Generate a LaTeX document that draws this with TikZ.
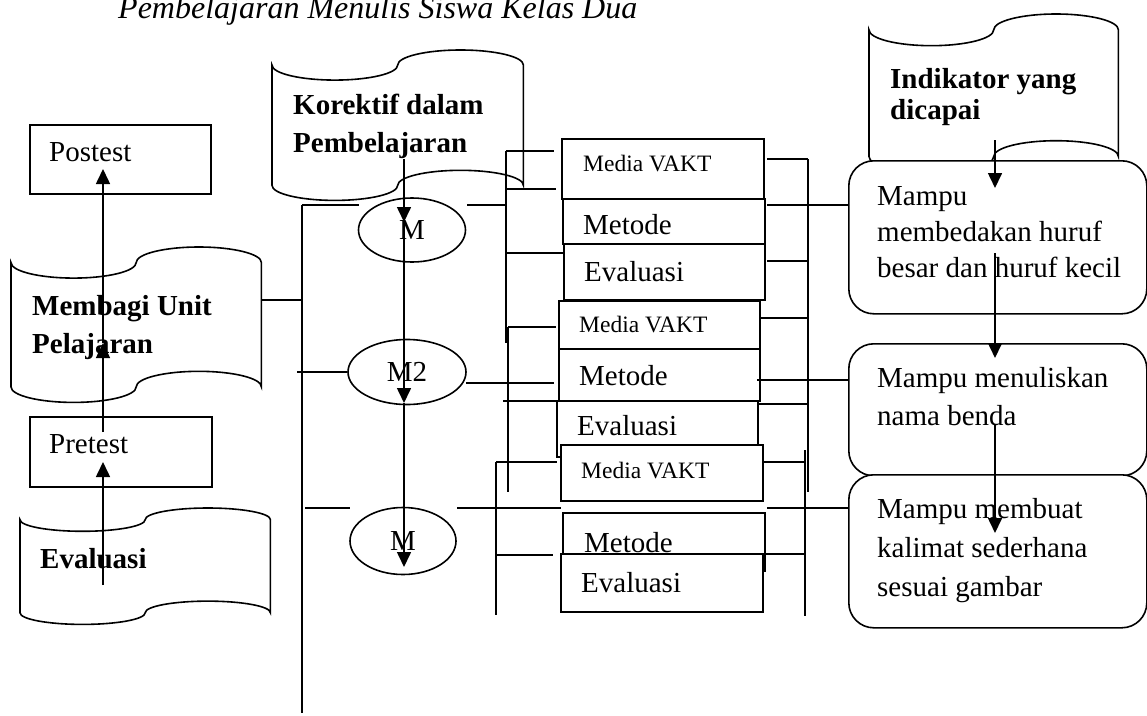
\documentclass[tikz,border=0pt]{standalone}
\usepackage{fontspec}
\setmainfont{Liberation Serif}
\usetikzlibrary{calc,arrows.meta,shapes.geometric}
\newcommand\fReg{\fontsize{29}{38}\selectfont}
\newcommand\fBld{\fontsize{29}{38}\selectfont\bfseries}
\newcommand\fSml{\fontsize{23.5}{30}\selectfont}
\newcommand\fTtl{\fontsize{32}{38}\selectfont\itshape}
\newcommand\Lines[1]{\begin{tabular}[t]{@{}l@{}}#1\end{tabular}}
\newcommand\tapeshape[1]{%
  \draw[ln] let \p1=(#1.north west), \p2=(#1.south east),
    \n1={(\x2-\x1)/4}, \n2={(\y1-\y2)/10} in
    (\x1,{\y1-\n2*1pt})
    arc[start angle=180,end angle=360,x radius={\n1*1pt},y radius={\n2*1pt}]
    arc[start angle=180,end angle=0,x radius={\n1*1pt},y radius={\n2*1pt}]
    -- (\x2,{\y2+\n2*1pt})
    arc[start angle=0,end angle=180,x radius={\n1*1pt},y radius={\n2*1pt}]
    arc[start angle=0,end angle=-180,x radius={\n1*1pt},y radius={\n2*1pt}]
    -- cycle;}
\begin{document}
\begin{tikzpicture}[x=1pt,y=-1pt,
  ln/.style={line width=1.6pt},
  frame/.style={draw,ln,fill=white,rectangle,inner sep=0pt,anchor=north west},
  rbox/.style={frame,rounded corners=25pt},
  tapebox/.style={rectangle,draw=none,inner sep=0pt,anchor=north west},
  oval/.style={ellipse,draw,ln,inner sep=0pt,font=\fReg},
  txt/.style={anchor=base west,inner sep=0pt,font=\fReg},
  btxt/.style={txt,font=\fBld},
  stxt/.style={txt,font=\fSml},
  arr/.style={ln,-{Triangle[width=14pt,length=15pt]}}]
\useasboundingbox (0,0) rectangle (1147,715);

% title (cut at top)
\node[txt,font=\fTtl] (title) at (118,18) {Pembelajaran Menulis Siswa Kelas Dua};

% punched tapes
\node[tapebox,minimum width=250pt,minimum height=155pt] (membagi) at (11,247) {};
\node[tapebox,minimum width=250pt,minimum height=116pt] (evaluasi) at (20,508) {};
\node[tapebox,minimum width=251pt,minimum height=150pt] (korektif) at (272,50) {};
\node[tapebox,minimum width=249pt,minimum height=158pt] (indikator) at (869,14) {};
\tapeshape{membagi}
\tapeshape{evaluasi}
\tapeshape{korektif}
\tapeshape{indikator}

% left boxes
\node[frame,minimum width=181pt,minimum height=69pt] (postest) at (29,124) {};
\node[frame,minimum width=182pt,minimum height=70pt] (pretest) at (29,416) {};

% ellipses
\node[oval,minimum width=107pt,minimum height=64pt] (m1) at (412,230) {M};
\node[oval,minimum width=118pt,minimum height=65pt] (m2) at (407,372) {M2};
\node[oval,minimum width=106pt,minimum height=67pt] (m3) at (403,541) {M};

% middle boxes
\node[frame,minimum width=202pt,minimum height=60pt] (va1) at (561,138) {};
\node[frame,minimum width=202pt,minimum height=45pt] (me1) at (562,198) {};
\node[frame,minimum width=201pt,minimum height=56pt] (ev1) at (563,243) {};
\node[frame,minimum width=201pt,minimum height=48pt] (va2) at (558,300) {};
\node[frame,minimum width=201pt,minimum height=52pt] (me2) at (558,348) {};
\node[frame,minimum width=201pt,minimum height=56pt] (ev2) at (556,400) {};
\node[frame,minimum width=202pt,minimum height=56pt] (va3) at (560,444) {};
\node[frame,minimum width=202pt,minimum height=58pt] (me3) at (562,512) {};
\node[frame,minimum width=202pt,minimum height=58pt] (ev3) at (560,553) {};

% rounded boxes
\node[rbox,minimum width=298pt,minimum height=153pt] (mp1) at (848,160) {};
\node[rbox,minimum width=298pt,minimum height=132pt] (mp2) at (848,343) {};
\node[rbox,minimum width=298pt,minimum height=153pt] (mp3) at (848,474) {};

% texts
\node[txt] (postest-t) at (49,161) {Postest};
\node[txt] (pretest-t) at (49,453) {Pretest};
\node[btxt] (membagi-t) at (32,315) {\Lines{Membagi Unit\\Pelajaran}};
\node[btxt] (evaluasi-t) at (40,568) {Evaluasi};
\node[btxt] (korektif-t) at (293,114) {\Lines{Korektif dalam\\Pembelajaran}};
\node[btxt,font=\fontsize{29}{31}\selectfont\bfseries] (indikator-t) at (890,88) {\Lines{Indikator yang\\dicapai}};
\node[stxt] (va1-t) at (583,171) {Media VAKT};
\node[txt] (me1-t) at (583,234) {Metode};
\node[txt] (ev1-t) at (584,281) {Evaluasi};
\node[stxt] (va2-t) at (579,332) {Media VAKT};
\node[txt] (me2-t) at (579,385) {Metode};
\node[txt] (ev2-t) at (577,435) {Evaluasi};
\node[stxt] (va3-t) at (581,478) {Media VAKT};
\node[txt] (me3-t) at (584,552) {Metode};
\node[txt] (ev3-t) at (581,592) {Evaluasi};
\node[txt,font=\fontsize{29}{36}\selectfont] (mp1-t) at (877,205) {\Lines{Mampu\\membedakan huruf\\besar dan huruf kecil}};
\node[txt] (mp2-t) at (877,387) {\Lines{Mampu menuliskan\\nama benda}};
\node[txt,font=\fontsize{29}{39}\selectfont] (mp3-t) at (877,518) {\Lines{Mampu membuat\\kalimat sederhana\\sesuai gambar}};

% left arrows
\coordinate (e1) at (103,585);
\coordinate (e2) at (103,462);
\coordinate (e3) at (103,432);
\coordinate (e4) at (103,343);
\coordinate (e5) at (103,169);
\draw[arr] (e1) -- (e2);
\draw[arr] (e3) -- (e4);
\draw[arr] (e4) -- (e5);

% spine
\coordinate (sp1) at (302,205);
\coordinate (sp2) at (302,300);
\coordinate (sp3) at (302,713);
\coordinate (sp4) at (359,205);
\coordinate (sp5) at (297,372);
\coordinate (sp6) at (305,508);
\coordinate (sp7) at (350,508);
\draw[ln] (sp1) -- (sp3);
\draw[ln] (membagi.east |- sp2) -- (sp2);
\draw[ln] (sp1) -- (sp4);
\draw[ln] (sp5) -- (m2.west);
\draw[ln] (sp6) -- (sp7);

% central arrows
\coordinate (c1) at (404,159);
\coordinate (c2) at (404,222);
\coordinate (c3) at (404,403);
\coordinate (c4) at (404,567);
\draw[arr] (c1) -- (c2);
\draw[arr] (c2) -- (c3);
\draw[arr] (c3) -- (c4);

% group 1 left bracket
\coordinate (g1a) at (506,151);
\coordinate (g1b) at (506,343);
\coordinate (g1c) at (554,151);
\coordinate (g1d) at (506,189);
\coordinate (g1e) at (556,189);
\coordinate (g1f) at (506,253);
\coordinate (g1g) at (467,205);
\coordinate (g1h) at (506,205);
\draw[ln] (g1a) -- (g1b);
\draw[ln] (g1a) -- (g1c);
\draw[ln] (g1d) -- (g1e);
\draw[ln] (g1f) -- (g1f -| ev1.west);
\draw[ln] (g1g) -- (g1h);

% group 2 left bracket
\coordinate (g2a) at (508,327);
\coordinate (g2b) at (508,492);
\coordinate (g2c) at (466,383);
\coordinate (g2d) at (503,401);
\coordinate (g2e) at (556,327);
\coordinate (g2f) at (554,383);
\draw[ln] (g2a) -- (g2b);
\draw[ln] (g2a) -- (g2e);
\draw[ln] (g2c) -- (g2f);
\draw[ln] (g2d) -- (g2d -| ev2.west);

% group 3 left bracket
\coordinate (g3a) at (496,462);
\coordinate (g3b) at (496,615);
\coordinate (g3c) at (457,508);
\coordinate (g3d) at (561,508);
\coordinate (g3e) at (496,555);
\coordinate (g3f) at (553,555);
\coordinate (g3g) at (557,462);
\draw[ln] (g3a) -- (g3b);
\draw[ln] (g3a) -- (g3g);
\draw[ln] (g3c) -- (g3d);
\draw[ln] (g3e) -- (g3f);

% right brackets
\coordinate (r1a) at (808,159);
\coordinate (r1b) at (808,492);
\coordinate (r2a) at (805,450);
\coordinate (r2b) at (805,616);
\draw[ln] (r1a) -- (r1b);
\draw[ln] (r2a) -- (r2b);
\coordinate (r3) at (767,159);
\coordinate (r4) at (767,205);
\coordinate (r5) at (767,261);
\coordinate (r6) at (760,318);
\coordinate (r7) at (757,380);
\coordinate (r8) at (759,404);
\coordinate (r9) at (764,462);
\coordinate (r10) at (767,508);
\coordinate (r11) at (762,554);
\draw[ln] (r3) -- (r3 -| r1a);
\draw[ln] (r4) -- (r4 -| mp1.west);
\draw[ln] (r5) -- (r5 -| r1a);
\draw[ln] (r6) -- (r6 -| r1a);
\draw[ln] (r7) -- (r7 -| mp2.west);
\draw[ln] (r8) -- (r8 -| r1a);
\draw[ln] (r9) -- (r9 -| r2a);
\draw[ln] (r10) -- (r10 -| mp3.west);
\draw[ln] (r11) -- (r11 -| r2a);

% right arrows
\coordinate (i1) at (995,140);
\coordinate (i2) at (995,188);
\coordinate (i3) at (995,253);
\coordinate (i4) at (995,358);
\coordinate (i5) at (995,425);
\coordinate (i6) at (995,533);
\draw[arr] (i1) -- (i2);
\draw[arr] (i3) -- (i4);
\draw[arr] (i5) -- (i6);
\end{tikzpicture}
\end{document}
